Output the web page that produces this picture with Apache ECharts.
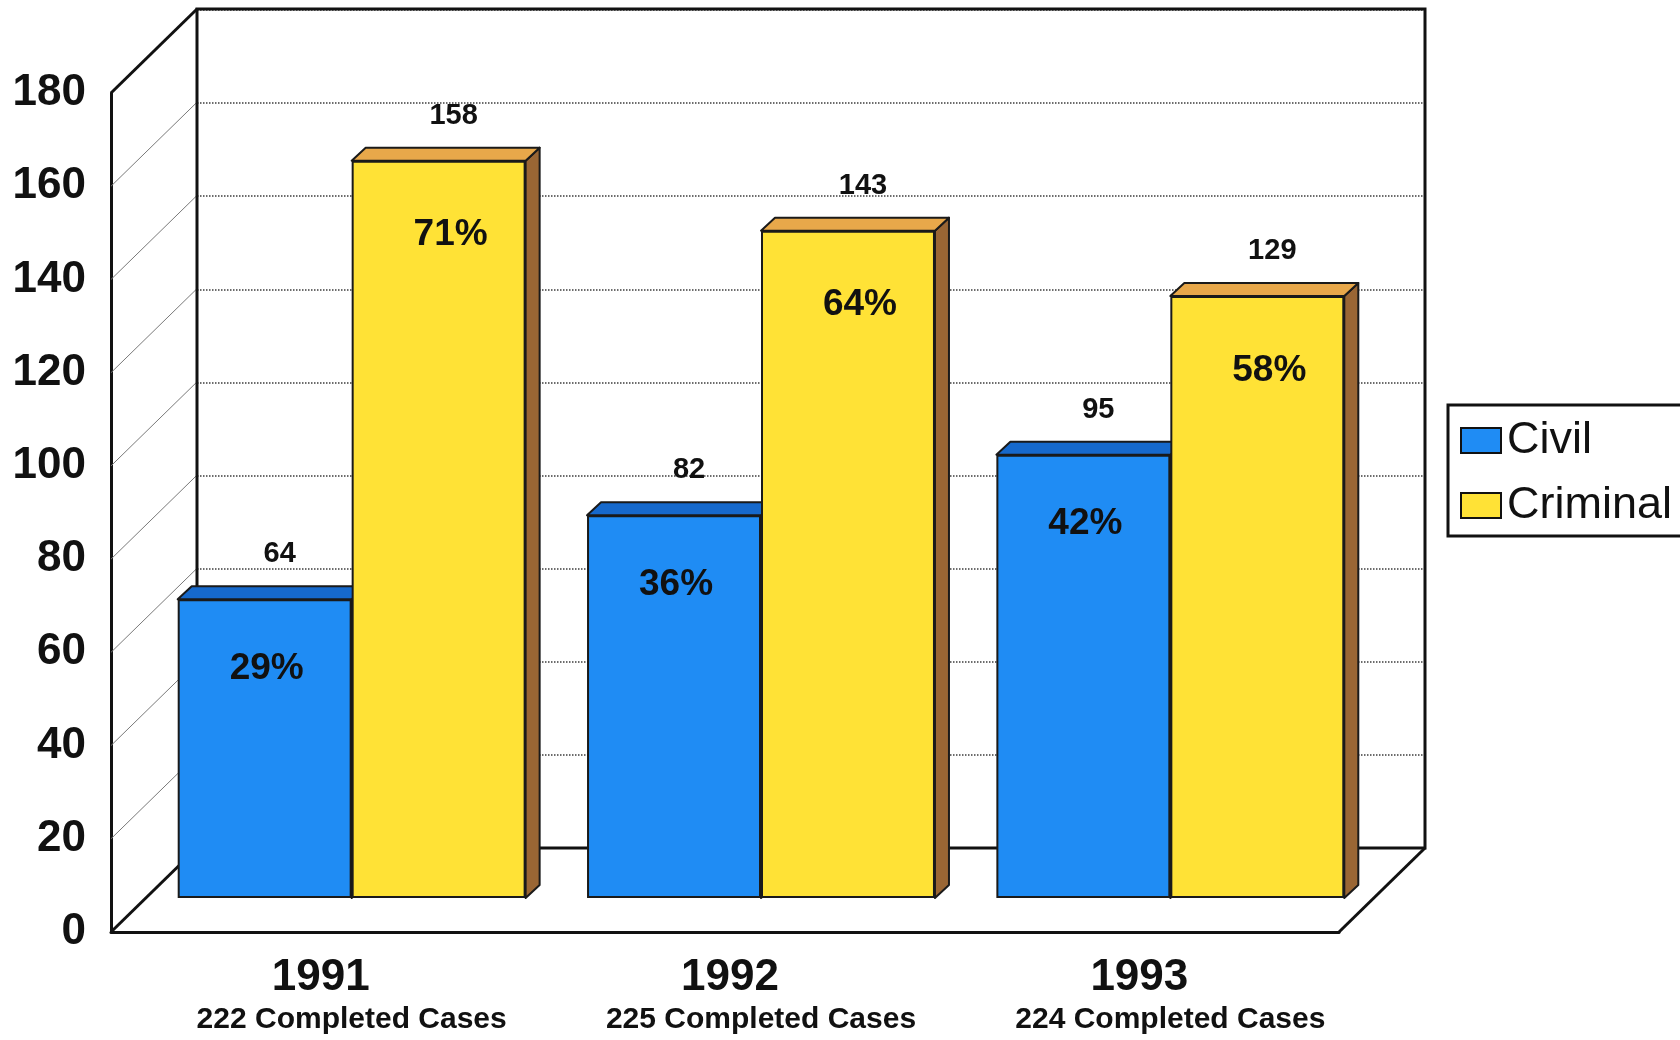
<!DOCTYPE html>
<html>
<head>
<meta charset="utf-8">
<script src="https://cdn.jsdelivr.net/npm/echarts@6/dist/echarts.min.js"></script>
<style>
  html, body { margin: 0; padding: 0; background: #ffffff; }
  #chart { width: 1680px; height: 1040px; }
</style>
</head>
<body>
<div id="chart"></div>
<script>
// Completed cases by year, split into civil and criminal matters
const years = ['1991', '1992', '1993'];
const civil = [64, 82, 95];
const criminal = [158, 143, 129];
const yTicks = [0, 20, 40, 60, 80, 100, 120, 140, 160, 180];

const totals = years.map((_, i) => civil[i] + criminal[i]);
const pct = (v, i) => Math.round(v / totals[i] * 100) + '%';

const FONT = '"Liberation Sans", Arial, Helvetica, sans-serif';
const INK = '#111111';
const WALL_DEPTH = [86, -84];   // offset from the front plane to the back wall
const BAR_DEPTH = [14, -13];    // extrusion of each column
const BAR_SHARE = 0.425;        // column width as a share of the category band

const palette = {
  Civil: { front: '#1f8cf4', top: '#1669cc', side: '#0f4f9c' },
  Criminal: { front: '#ffe236', top: '#e8a84a', side: '#9a6634' }
};

// Top and side faces of a column plus its value label
function extrusion(name, leftOfCenter) {
  const c = palette[name];
  return function (params, api) {
    const i = api.value(0);
    const v = api.value(1);
    const band = api.size([1, 0])[0];
    const bw = band * BAR_SHARE;
    const p = api.coord([i, v]);
    const base = api.coord([i, 0])[1];
    const x0 = leftOfCenter ? p[0] - bw : p[0];
    const x1 = x0 + bw;
    const top = p[1];
    const dx = BAR_DEPTH[0], dy = BAR_DEPTH[1];
    const edge = { stroke: '#1a1a1a', lineWidth: 2, lineJoin: 'round' };
    return {
      type: 'group',
      children: [
        { type: 'polygon', shape: { points: [[x1, base], [x1, top], [x1 + dx, top + dy], [x1 + dx, base + dy]] },
          style: Object.assign({ fill: c.side }, edge) },
        { type: 'polygon', shape: { points: [[x0, top], [x1, top], [x1 + dx, top + dy], [x0 + dx, top + dy]] },
          style: Object.assign({ fill: c.top }, edge) },
        { type: 'text', x: (x0 + x1) / 2 + 15, y: top + dy - 32,
          style: { text: String(v), font: 'bold 29px ' + FONT, fill: INK, align: 'center', verticalAlign: 'middle' } }
      ]
    };
  };
}

// Side wall grid lines, back wall outline and floor edges
function frame(params, api) {
  const cs = params.coordSys;
  const v = api.value(1);
  const y = api.coord([0, v])[1];
  const dx = WALL_DEPTH[0], dy = WALL_DEPTH[1];
  const strong = v === yTicks[0] || v === yTicks[yTicks.length - 1];
  const children = [
    { type: 'line', shape: { x1: cs.x, y1: y, x2: cs.x + dx, y2: y + dy },
      style: { stroke: strong ? INK : '#7a7a7a', lineWidth: strong ? 3 : 1 } }
  ];
  if (v === yTicks[yTicks.length - 1]) {
    const bx = cs.x + dx, by = cs.y + dy, w = cs.width, h = cs.height;
    children.push({ type: 'polyline',
      shape: { points: [[bx, by + h], [bx, by], [bx + w, by], [bx + w, by + h], [bx, by + h]] },
      style: { stroke: INK, lineWidth: 3, fill: null } });
  }
  if (v === yTicks[0]) {
    const rx = cs.x + cs.width, ry = cs.y + cs.height;
    children.push({ type: 'line', shape: { x1: rx, y1: ry, x2: rx + dx, y2: ry + dy },
      style: { stroke: INK, lineWidth: 3 } });
  }
  return { type: 'group', children };
}

const yBase = { type: 'value', min: 0, max: 180, interval: 20 };
const hiddenX = { type: 'category', data: years, show: false, boundaryGap: true };

const pctLabel = (dist, shiftX) => ({
  show: true, position: 'insideTop', distance: dist, offset: [shiftX, 0],
  formatter: p => pct(p.value, p.dataIndex),
  fontSize: 37, fontWeight: 'bold', color: INK, fontFamily: FONT
});

const option = {
  backgroundColor: '#ffffff',
  animation: false,
  textStyle: { fontFamily: FONT },
  grid: [
    // back wall
    { left: 197, top: 10, width: 1228, height: 838, outerBoundsMode: 'none', containLabel: false },
    // plane of the columns
    { left: 147, top: 58, width: 1228, height: 840, outerBoundsMode: 'none', containLabel: false },
    // front plane carrying the axis labels
    { left: 111, top: 93, width: 1228, height: 839, outerBoundsMode: 'none', containLabel: false }
  ],
  xAxis: [
    Object.assign({ gridIndex: 0 }, hiddenX),
    Object.assign({ gridIndex: 1 }, hiddenX),
    {
      gridIndex: 2, type: 'category', data: years, boundaryGap: true,
      axisLine: { show: true, lineStyle: { color: INK, width: 3 } },
      axisTick: { show: false },
      splitLine: { show: false },
      axisLabel: {
        margin: 23,
        interval: 0,
        formatter: (val, i) => '{y|' + val + '}\n{s|' + totals[i] + ' Completed Cases}',
        rich: {
          y: { fontSize: 44, fontWeight: 'bold', color: INK, fontFamily: FONT, lineHeight: 46, padding: [0, 0, 0, 10] },
          s: { fontSize: 30, fontWeight: 'bold', color: INK, fontFamily: FONT, lineHeight: 38, padding: [0, 0, 0, 72] }
        }
      }
    }
  ],
  yAxis: [
    Object.assign({ gridIndex: 0 }, yBase, {
      axisLine: { show: false }, axisTick: { show: false }, axisLabel: { show: false },
      splitLine: { show: true, lineStyle: { color: '#3c3c3c', width: 1.5, type: 'dotted' } }
    }),
    Object.assign({ gridIndex: 1 }, yBase, { show: false, splitLine: { show: false } }),
    Object.assign({ gridIndex: 2 }, yBase, {
      axisLine: { show: true, lineStyle: { color: INK, width: 3 } },
      axisTick: { show: false },
      splitLine: { show: false },
      axisLabel: { show: true, margin: 25, fontSize: 44, fontWeight: 'bold', color: INK, fontFamily: FONT }
    })
  ],
  legend: {
    orient: 'vertical',
    left: 1448, top: 405,
    padding: [13, 24, 8, 12],
    itemWidth: 40, itemHeight: 25, itemGap: 20,
    icon: 'rect',
    itemStyle: { borderColor: INK, borderWidth: 2 },
    textStyle: { fontSize: 45, color: INK, fontFamily: FONT, padding: [0, 0, 0, 1] },
    borderColor: INK, borderWidth: 3,
    backgroundColor: '#ffffff',
    selectedMode: false,
    data: ['Civil', 'Criminal']
  },
  series: [
    {
      type: 'custom', name: 'frame', xAxisIndex: 2, yAxisIndex: 2, z: 1, silent: true,
      data: yTicks.map(v => [0, v]), encode: { x: 0, y: 1 },
      renderItem: frame
    },
    {
      type: 'custom', name: 'Civil', xAxisIndex: 1, yAxisIndex: 1, z: 2,
      itemStyle: { color: palette.Civil.front },
      data: civil.map((v, i) => [i, v]), encode: { x: 0, y: 1 },
      renderItem: extrusion('Civil', true)
    },
    {
      type: 'custom', name: 'Criminal', xAxisIndex: 1, yAxisIndex: 1, z: 2,
      itemStyle: { color: palette.Criminal.front },
      data: criminal.map((v, i) => [i, v]), encode: { x: 0, y: 1 },
      renderItem: extrusion('Criminal', false)
    },
    {
      type: 'bar', name: 'Civil', xAxisIndex: 1, yAxisIndex: 1, z: 3,
      data: civil, barGap: '0%', barCategoryGap: '15%',
      itemStyle: { color: palette.Civil.front, borderColor: '#1a1a1a', borderWidth: 2 },
      label: pctLabel(51, 2)
    },
    {
      type: 'bar', name: 'Criminal', xAxisIndex: 1, yAxisIndex: 1, z: 3,
      data: criminal, barGap: '0%', barCategoryGap: '15%',
      itemStyle: { color: palette.Criminal.front, borderColor: '#1a1a1a', borderWidth: 2 },
      label: pctLabel(56, 12)
    }
  ]
};

const chart = echarts.init(document.getElementById('chart'), null, { renderer: 'canvas' });
chart.setOption(option);
</script>
</body>
</html>
